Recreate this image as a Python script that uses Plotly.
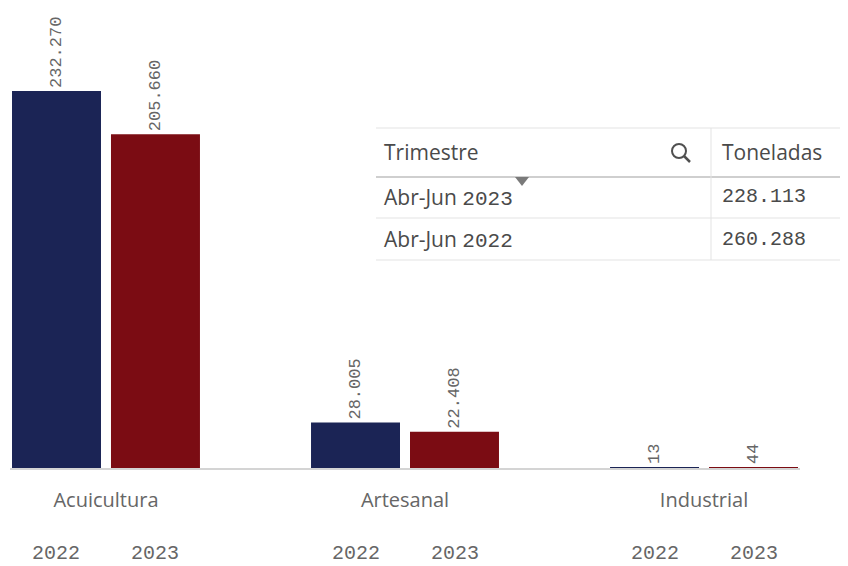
import plotly.graph_objects as go

W, H = 848, 566
OFF = 8  # page body margin

# data
categorias = ["Acuicultura", "Artesanal", "Industrial"]
anios = ["2022", "2023"]
toneladas_2022 = [232270, 28005, 13]
toneladas_2023 = [205660, 22408, 44]
colores = ["#1b2455", "#7b0c13"]

tabla_header = ["Trimestre", "Toneladas"]
tabla_trimestre = ["Abr-Jun 2023", "Abr-Jun 2022"]
tabla_toneladas = ["228.113", "260.288"]

MONO = "Liberation Mono"
SANS = "Open Sans"
GRIS = "#666666"


def px(x):
    return (x - OFF) / W


def py(y):
    return 1 - (y - OFF) / H


fig = go.Figure()
for anio, vals, col in zip(anios, [toneladas_2022, toneladas_2023], colores):
    fig.add_trace(go.Bar(
        x=categorias, y=vals, name=anio,
        marker=dict(color=col, line=dict(width=0)),
        texttemplate="%{y:,}", textposition="outside", textangle=-90,
        constraintext="none", cliponaxis=False,
        textfont=dict(family=MONO, size=17, color=GRIS),
    ))

annotations = []
# year labels under each bar
for c in categorias:
    for anio, shift in zip(anios, [-49.5, 49.5]):
        annotations.append(dict(
            x=c, xref="x", y=py(553), yref="paper", xshift=shift,
            text=anio, showarrow=False, yanchor="middle",
            font=dict(family=MONO, size=20, color=GRIS),
        ))

# table overlay
shapes = []
linea = "#e3e3e3"
for yy, col, w in [(128, linea, 1), (177, "#cfcfcf", 2), (218, linea, 1), (260, linea, 1)]:
    shapes.append(dict(type="line", xref="paper", yref="paper",
                       x0=px(376), x1=px(856), y0=py(yy), y1=py(yy),
                       line=dict(color=col, width=w)))
shapes.append(dict(type="line", xref="paper", yref="paper",
                   x0=px(711), x1=px(711), y0=py(128), y1=py(260),
                   line=dict(color=linea, width=1)))
# magnifier icon
shapes.append(dict(type="circle", xref="paper", yref="paper",
                   x0=px(672), x1=px(686), y0=py(158), y1=py(144),
                   line=dict(color="#505050", width=2)))
shapes.append(dict(type="line", xref="paper", yref="paper",
                   x0=px(684), x1=px(690), y0=py(156), y1=py(162),
                   line=dict(color="#505050", width=2.5)))
# sort triangle
shapes.append(dict(type="path", xref="paper", yref="paper",
                   path=f"M {px(515)} {py(177)} L {px(529)} {py(177)} L {px(522)} {py(186)} Z",
                   fillcolor="#7a7a7a", line=dict(width=0)))

col_x = [382, 720]
for txt, xx in zip(tabla_header, col_x):
    annotations.append(dict(x=px(xx), y=py(152), xref="paper", yref="paper",
                            text=txt, showarrow=False, xanchor="left", yanchor="middle",
                            font=dict(family=SANS, size=21, color="#4a4a4a")))
for i, (t, v) in enumerate(zip(tabla_trimestre, tabla_toneladas)):
    yy = 197 + i * 42
    pref, num = t.rsplit(" ", 1)
    etiqueta = f"{pref} <span style='font-family:{MONO};font-size:21px'>{num}</span>"
    annotations.append(dict(x=px(col_x[0]), y=py(yy), xref="paper", yref="paper",
                            text=etiqueta, showarrow=False, xanchor="left", yanchor="middle",
                            font=dict(family=SANS, size=21, color="#4a4a4a")))
    annotations.append(dict(x=px(col_x[1]), y=py(yy), xref="paper", yref="paper",
                            text=v, showarrow=False, xanchor="left", yanchor="middle",
                            font=dict(family=MONO, size=20, color="#4a4a4a")))

fig.update_layout(
    width=W, height=H,
    margin=dict(l=0, r=0, t=0, b=0),
    paper_bgcolor="white", plot_bgcolor="white",
    barmode="group", bargap=0.338, bargroupgap=0.101,
    separators=",.",
    showlegend=False,
    xaxis=dict(domain=[px(10), px(800)], range=[-0.321, 2.321],
               showline=True, linecolor="#d4d4d4", linewidth=1.5,
               showgrid=False, ticks="", ticklabelstandoff=13,
               tickfont=dict(family=SANS, size=20, color=GRIS)),
    yaxis=dict(domain=[py(468), py(10)], range=[0, 282200], visible=False),
    annotations=annotations,
    shapes=shapes,
)

fig.write_html("out.html")
